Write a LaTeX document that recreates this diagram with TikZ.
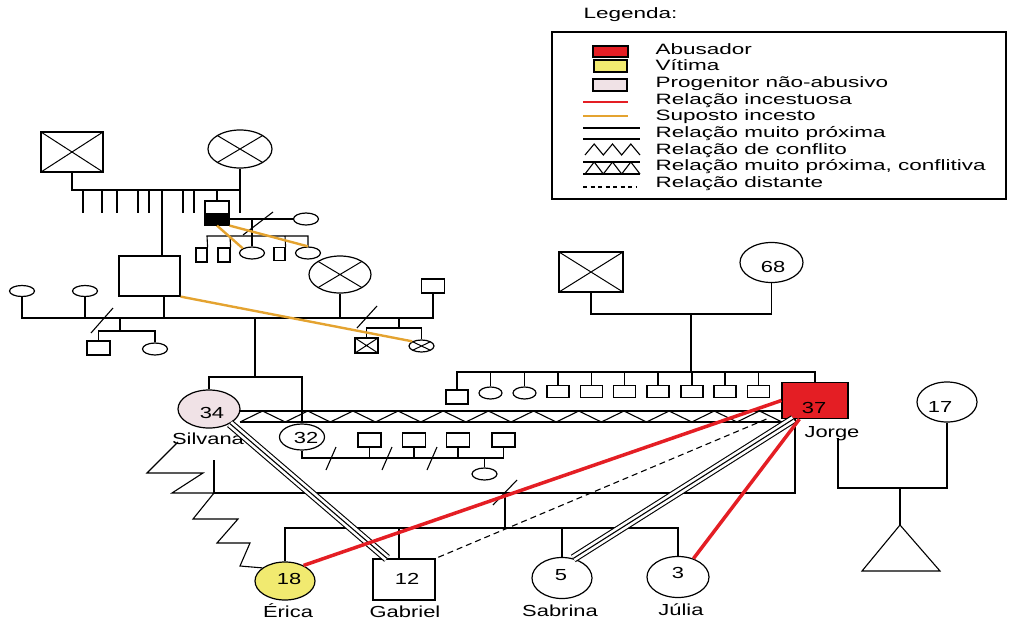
\documentclass[tikz,border=0pt]{standalone}
\usepackage{fontspec}
\usetikzlibrary{shapes.geometric}
\newfontfamily\lgdfont{Liberation Sans}[FakeStretch=1.5]
\newfontfamily\lblfont{Liberation Sans}[FakeStretch=1.37]
\definecolor{abusecol}{RGB}{228,30,36}
\definecolor{victimcol}{RGB}{241,234,112}
\definecolor{parentcol}{RGB}{240,226,230}
\definecolor{suspectcol}{RGB}{228,163,48}

\begin{document}
\begin{tikzpicture}[x=1pt, y=-1pt, line width=1.1pt,
    person/.style={draw, line width=1.2pt, fill=white, inner sep=0pt},
    man/.style 2 args={person, rectangle, minimum width=#1pt, minimum height=#2pt},
    woman/.style 2 args={person, ellipse, minimum width=#1pt, minimum height=#2pt},
    dead/.style={path picture={\draw[line width=1pt] (path picture bounding box.north west) -- (path picture bounding box.south east) (path picture bounding box.north east) -- (path picture bounding box.south west);}},
    halfblack/.style={path picture={\fill[black] (path picture bounding box.west) rectangle (path picture bounding box.south east);}},
    incest/.style={draw=abusecol, line width=3.5pt},
    suspect/.style={draw=suspectcol, line width=2.4pt},
    distant/.style={dash pattern=on 6pt off 4pt},
    closeness/.style={double distance=6.5pt},
    num/.style={font=\lblfont\fontsize{16}{16}\selectfont, anchor=base, inner sep=0pt},
    lbl/.style={font=\lblfont\fontsize{16}{16}\selectfont, anchor=base, inner sep=0pt},
    lgd/.style={font=\lgdfont\fontsize{15}{15}\selectfont, anchor=base west, inner sep=0pt}]
\useasboundingbox (0,0) rectangle (1009,621);

% first generation
\node[man={62}{40}, dead] (ggf) at (72,152) {};
\node[woman={64}{38}, dead] (ggm) at (240,149) {};
\node[man={24}{24}, halfblack] (uncle) at (217,213) {};
\node[woman={25}{12}] (uwife) at (306,219) {};
\node[man={11}{14}] (uc1) at (201.5,255) {};
\node[man={12}{14}] (uc2) at (224,255) {};
\node[woman={25}{12}] (uc3) at (252,253) {};
\node[man={11}{13}] (uc4) at (279.5,254) {};
\node[woman={25}{12}] (uc5) at (308,253) {};

% second generation
\node[man={61}{40}] (gf) at (149.5,276) {};
\node[woman={25}{11}] (gfw1) at (22,291) {};
\node[woman={25}{11}] (gfw2) at (85,291) {};
\node[man={23}{14}] (hc1) at (98.5,348) {};
\node[woman={25}{12}] (hc2) at (155,349) {};
\node[woman={62}{37}, dead] (gm) at (340,274.5) {};
\node[man={23}{14}] (gmh) at (433,286) {};
\node[man={23}{15}, dead] (mc1) at (366.5,345.5) {};
\node[woman={25}{12}, dead] (mc2) at (421.5,346) {};

% third generation
\node[woman={62}{38}, fill=parentcol] (silvana) at (209,409) {};
\node[woman={45}{26}] (aunt) at (302,437) {};
\foreach \x/\n in {369.5/1, 414/2, 458/3, 503.5/4}
    \node[man={23}{14}] (ah\n) at (\x,440) {};
\node[woman={25}{12}] (ac) at (484.5,474) {};

\node[man={64}{40}, dead] (jgf) at (591,272) {};
\node[woman={63}{40}] (jgm) at (771.5,262.5) {};
\node[man={22}{14}] (js1) at (457,397) {};
\node[woman={23}{12}] (js2) at (490.5,393) {};
\node[woman={23}{12}] (js3) at (524.5,393) {};
\foreach \x [count=\i from 4] in {558,591.5,624.5,658,692,725,758.5}
    \node[man={22}{12}] (js\i) at (\x,391.5) {};
\node[man={66}{36}, fill=abusecol] (jorge) at (815,400.5) {};
\node[woman={60}{40}] (partner) at (947,402) {};
\coordinate (baby) at (900,525);

% fourth generation
\node[woman={60}{38}, fill=victimcol] (erica) at (285,581) {};
\node[man={62}{41}] (gabriel) at (404,579.5) {};
\node[woman={60}{41}] (sabrina) at (562,578) {};
\node[woman={62}{41}] (julia) at (678,577) {};

% ages and names
\node[num] (t34) at (212,418) {34};
\node[num] (t32) at (306,443) {32};
\node[num] (t68) at (773,272) {68};
\node[num] (t37) at (814,413) {37};
\node[num] (t17) at (940,412) {17};
\node[num] (t18) at (289,584) {18};
\node[num] (t12) at (407,584) {12};
\node[num] (t5) at (561,580) {5};
\node[num] (t3) at (678,578) {3};
\node[lbl] (tsilvana) at (208,444) {Silvana};
\node[lbl] (tjorge) at (832,437) {Jorge};
\node[lbl] (terica) at (288,617) {Érica};
\node[lbl] (tgabriel) at (405,617) {Gabriel};
\node[lbl] (tsabrina) at (560,616) {Sabrina};
\node[lbl] (tjulia) at (681,615) {Júlia};

\coordinate (lvlJ) at (0,372);

% first generation lines
\draw (ggf.south) |- (240,190);
\draw (ggm.south) -- (240,213);
\foreach \x in {83,102,117,138,149,183,194}
    \draw (\x,190) -- (\x,213);
\draw (162,190) -- (162,256);
\draw (217,190) -- (uncle.north);
\draw (uncle.east |- uwife) -- (uwife.west);
\draw (243,235) -- (273,212);
\draw (252,219) -- (uc3.north);
\draw (uc1.north east) -- (207,236) -- (308,236) -- (uc5.north);
\draw (uc2.north east) -- (230,236);
\draw (uc4.north east) -- (285,236);
\draw[suspect] (uncle.south) -- (uc3.north west);
\draw[suspect] (uncle.south east) -- (uc5.north);

% second generation lines
\draw (gfw1.south) |- (433,318) -- (gmh.south);
\draw (gfw2.south) -- (85,318);
\draw (164,296) -- (164,318);
\draw (gm.south) -- (340,318);
\draw (91,333) -- (113,308);
\draw (120,318) -- (120,331);
\draw (hc1.north) -- (98.5,331) -- (155,331) -- (hc2.north);
\draw (357,328) -- (377,306);
\draw (399,318) -- (399,328);
\draw (mc1.north) -- (366.5,328) -- (421.5,328) -- (mc2.north);
\draw[suspect] (gf.south east) -- (mc2.north west);
\draw (255,318) -- (255,377);
\draw (silvana.north) |- (302,377) -- (aunt.north);

% aunt's marriages
\draw (aunt.south) -- (302,458) -- (503.5,458);
\foreach \x/\n in {369.5/1, 414/2, 458/3, 503.5/4}
    \draw (ah\n.south) -- (\x,458);
\foreach \x in {326,382,427}
    \draw (\x,470) -- ({\x+10},447);
\draw (ac.north) -- (484.5,458);

% Jorge's family of origin
\draw (jgf.south) |- (771.5,314) -- (jgm.south);
\draw (691,314) -- (691,372);
\draw (js1.north) |- (815,372) -- (jorge.north);
\foreach \n in {2,...,10}
    \draw (js\n.north) -- (js\n.north |- lvlJ);

% close and conflicting bond Silvana - Jorge
\draw (240,411) -- (782,411) (240,422) -- (782,422);
\draw (240,422) \foreach \i in {0,...,11} { -- ({240+45.17*\i+22.58},411) -- ({240+45.17*(\i+1)},422) };

% Silvana - Jorge marriage and children
\draw (214,460) -- (214,493) -- (795,493) -- (795,418.5);
\draw (493,505) -- (517,480);
\draw (505,493) -- (505,528);
\draw (erica.north) -- (285,528) -- (678,528) -- (julia.north);
\draw (399,528) -- (399,559);
\draw (sabrina.north) -- (562,528);

% Jorge - partner
\draw (838,438) -- (838,488) -- (947,488) -- (partner.south);
\draw (900,488) -- (baby);
\draw (baby) -- (862,571) -- (940,571) -- cycle;

% conflict Silvana - Erica
\draw (178,442) -- (147,473) -- (203,473) -- (172,493) -- (214,493) -- (193,519) -- (238,519) -- (217,543) -- (250,543) -- (240,566) -- (erica.150);

% bonds
\draw[closeness] (silvana.-35) -- ([xshift=-17pt]gabriel.north);
\draw (silvana.-35) -- ([xshift=-17pt]gabriel.north);
\draw[closeness] ([xshift=12pt]jorge.south west) -- (sabrina.60);
\draw ([xshift=12pt]jorge.south west) -- (sabrina.60);
\draw[distant] ([xshift=-15pt]jorge.south west) -- (gabriel.north east);
\draw[incest] (jorge.west) -- (erica.40);
\draw[incest] ([xshift=18pt]jorge.south west) -- (julia.50);

% legend
\node[lgd] (lgdtitle) at (583,19) {Legenda:};
\draw (552,32) rectangle (1006,199);
\node[person, fill=abusecol, minimum width=35pt, minimum height=11pt] (kabuse) at (610.5,51.5) {};
\node[person, fill=victimcol, minimum width=33pt, minimum height=12pt] (kvictim) at (610.5,66) {};
\node[person, fill=parentcol, minimum width=34pt, minimum height=12pt] (kparent) at (610,85) {};
\draw[incest, line width=2.6pt] (583,102) -- (628,102);
\draw[suspect] (583,116) -- (628,116);
\draw (583,128) -- (640,128) (583,139) -- (640,139);
\draw (585,155) \foreach \i in {0,1,2} { -- ({585+18.33*\i+9.17},144) -- ({585+18.33*(\i+1)},155) };
\draw (583,162) -- (640,162) (583,174) -- (640,174);
\draw (585,174) \foreach \i in {0,1,2} { -- ({585+18.33*\i+9.17},162) -- ({585+18.33*(\i+1)},174) };
\draw[distant, dash pattern=on 4pt off 3.5pt] (583,187) -- (637,187);
\foreach \t [count=\i from 0] in {Abusador, Vítima, Progenitor não-abusivo, Relação incestuosa, Suposto incesto, Relação muito próxima, Relação de conflito, {Relação muito próxima, conflitiva}, Relação distante}
    \node[lgd] (key\i) at (655,{54+16.7*\i}) {\t};

\end{tikzpicture}
\end{document}
